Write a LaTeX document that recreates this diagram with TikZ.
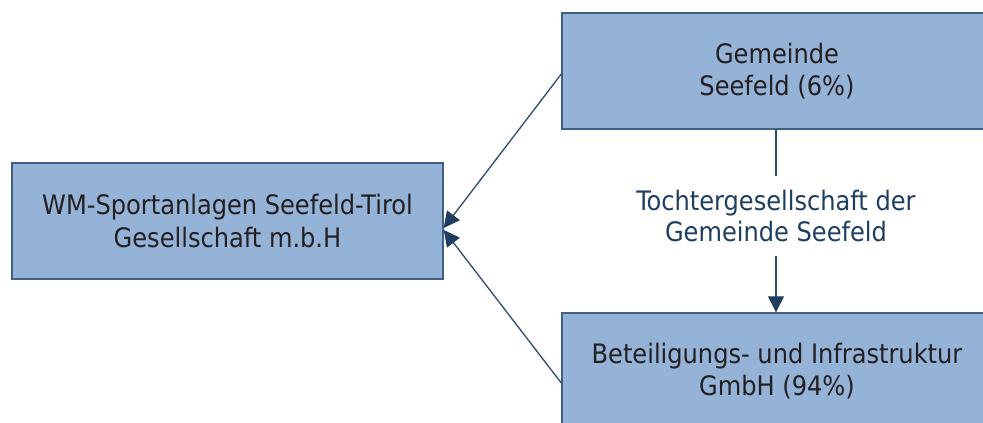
\documentclass[tikz,border=0pt]{standalone}
\usepackage{fontspec}
\setmainfont{DejaVu Sans Condensed}
\usetikzlibrary{arrows.meta}
\definecolor{boxfill}{HTML}{95B3D7}
\definecolor{boxline}{HTML}{3F5F86}
\definecolor{conn}{HTML}{2E4C70}
\definecolor{tip}{HTML}{1F3D62}
\definecolor{boxtext}{HTML}{231F20}
\definecolor{labtext}{HTML}{1F3F62}
\tikzset{
  orgbox/.style={draw=boxline, line width=1.4pt, fill=boxfill, text=boxtext,
    align=center, inner sep=0pt, minimum height=116pt,
    font=\fontsize{26.8}{32.5}\selectfont},
  lbl/.style={text=labtext, align=center, inner xsep=0pt, inner ysep=14pt,
    font=\fontsize{26.8}{31}\selectfont},
  conline/.style={draw=conn, line width=1.3pt},
  tipped/.style={conline, -{Triangle[length=16pt, width=16pt, fill=tip, color=tip]}}
}
\begin{document}
\begin{tikzpicture}[x=1pt,y=-1pt]
\useasboundingbox (0,0) rectangle (983,423);
\fill[white] (0,0) rectangle (983,423);
\begin{scope}
\clip (0,0) rectangle (983,423);
\node[orgbox, minimum width=431pt] (wm) at (227.5,221) {WM-Sportanlagen Seefeld-Tirol\\Gesellschaft m.b.H};
\node[orgbox, minimum width=430pt] (gem) at (777,71) {Gemeinde\\Seefeld (6\%)};
\node[orgbox, minimum width=430pt] (bet) at (777,371) {Beteiligungs- und Infrastruktur\\GmbH (94\%)};
\end{scope}
\node[lbl] (lab) at (776,216) {Tochtergesellschaft der\\Gemeinde Seefeld};
\draw[conline] (gem.south -| lab.north) -- (lab.north);
\draw[tipped] (lab.south) -- (lab.south |- bet.north);
\draw[tipped] ([yshift=-3pt]gem.west) -- ([yshift=-7pt]wm.east);
\draw[tipped] ([yshift=-12pt]bet.west) -- ([yshift=-9pt]wm.east);
\end{tikzpicture}
\end{document}
